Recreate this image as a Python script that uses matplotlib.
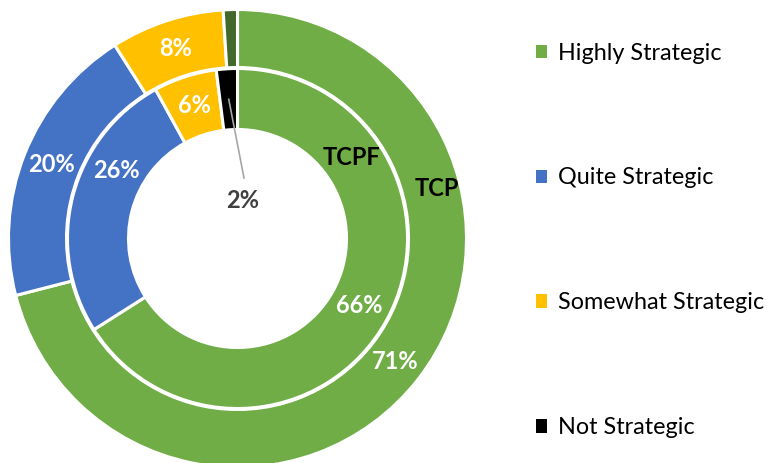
import numpy as np
import matplotlib
matplotlib.use("Agg")
import matplotlib.pyplot as plt
from matplotlib.patches import Patch

plt.rcParams['font.family'] = ['Lato', 'DejaVu Sans']

categories = ["Highly Strategic", "Quite Strategic", "Somewhat Strategic", "Not Strategic"]
tcp_values = [71, 20, 8, 1]      # outer ring (TCP)
tcpf_values = [66, 26, 6, 2]     # inner ring (TCPF)
series_names = ["TCP", "TCPF"]

legend_colors = ["#70AD47", "#4472C4", "#FFC000", "#000000"]
outer_colors = ["#70AD47", "#4472C4", "#FFC000", "#43682B"]
inner_colors = legend_colors

W, H = 776, 463
fig = plt.figure(figsize=(W / 100, H / 100), dpi=100)
ax = fig.add_axes([0, 0, 1, 1])

cx, cy = 237.5, H - 238.5
R_out, w_out = 229, 58
R_in, w_in = 170, 61

outer, _ = ax.pie(tcp_values, radius=R_out, center=(cx, cy), startangle=90,
                  counterclock=False, colors=outer_colors,
                  wedgeprops=dict(width=w_out, edgecolor="white", linewidth=2.2))
inner, _ = ax.pie(tcpf_values, radius=R_in, center=(cx, cy), startangle=90,
                  counterclock=False, colors=inner_colors,
                  wedgeprops=dict(width=w_in, edgecolor="white", linewidth=2.2))

ax.set_xlim(0, W)
ax.set_ylim(0, H)
ax.set_aspect("equal")
ax.axis("off")

lab_fs = 17


def polar(r, ang):
    a = np.deg2rad(ang)
    return cx + r * np.cos(a), cy + r * np.sin(a)


def wedge_label(w, val, shift=0.0, **kw):
    mid = (w.theta1 + w.theta2) / 2 + shift
    r = w.r - w.width / 2
    x, y = polar(r, mid)
    ax.text(x, y, f"{val}%", ha="center", va="center", fontsize=lab_fs,
            fontweight="bold", color="white", **kw)


# outer labels (skip the tiny last slice)
for w, v in zip(outer[:3], tcp_values[:3]):
    wedge_label(w, v)
# inner labels
wedge_label(inner[0], tcpf_values[0])
wedge_label(inner[1], tcpf_values[1], shift=-15)
wedge_label(inner[2], tcpf_values[2])

# "Not strategic" inner label with leader line
wb = inner[3]
mid = (wb.theta1 + wb.theta2) / 2
x0, y0 = polar(wb.r - wb.width / 2, mid)
ax.plot([x0, cx + 6.5], [y0, cy + 60.5], color="#A6A6A6", lw=1.2)
ax.text(cx + 5.5, cy + 38.5, f"{tcpf_values[3]}%", ha="center", va="center",
        fontsize=lab_fs, fontweight="bold", color="#404040")

# series names
x, y = polar(R_out - w_out / 2 + 5, 14.0)
ax.text(x, y, series_names[0], ha="center", va="center", fontsize=lab_fs,
        fontweight="bold", color="black")
x, y = polar(R_in - w_in / 2, 35.5)
ax.text(x, y, series_names[1], ha="center", va="center", fontsize=lab_fs,
        fontweight="bold", color="black")

handles = [Patch(facecolor=c, edgecolor="none") for c in legend_colors]
fig.legend(handles, categories, loc="upper left", bbox_to_anchor=(524 / W, 1 - 31 / H),
           frameon=False, fontsize=16.8, labelspacing=4.45, handlelength=0.5,
           handleheight=0.5, handletextpad=0.45, borderpad=0)

fig.savefig("out.png", dpi=100)
